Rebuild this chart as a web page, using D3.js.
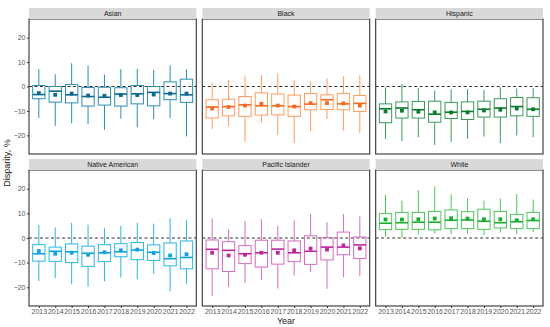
<!DOCTYPE html>
<html><head><meta charset="utf-8">
<script src="https://cdn.jsdelivr.net/npm/d3@7"></script>
<style>body{margin:0;background:#fff}svg{display:block}text{font-family:"Liberation Sans",Arial,sans-serif}</style>
</head><body><svg id="c" width="550" height="327"></svg>
<script>
const years = ["2013","2014","2015","2016","2017","2018","2019","2020","2021","2022"];
const groups = ["Asian","Black","Hispanic","Native American","Pacific Islander","White"];
const yTicks = [-20,-10,0,10,20];
// per group: [whiskerLow, q1, median, q3, whiskerHigh, mean] per year
const asian = [[-12.9,-5.0,-3.3,0.4,7.1,-2.7],[-16.1,-6.4,-1.9,0,5.0,-3.4],[-15,-6.7,-3.4,0.8,9.5,-2.9],[-15.4,-8.0,-4.1,-0.4,8.6,-3.7],[-17.7,-7.6,-4.4,-0.3,4.9,-3.8],[-13.2,-8.0,-3.1,-0.5,7.1,-3.5],[-16.7,-7.1,-3.0,0.4,7.2,-3.5],[-13.3,-7.9,-2.4,0,6.8,-3.3],[-12.9,-5.4,-2.9,1.9,8.7,-2.9],[-20.4,-6.5,-3.4,3.0,7.1,-2.9]];
const black = [[-17.4,-12.9,-8.4,-5.4,1.4,-9.0],[-16.3,-12.0,-8.2,-5.2,2.6,-8.4],[-22.7,-12.2,-7.5,-4.1,4.4,-7.8],[-14.7,-11.7,-7.9,-2.6,4.6,-7.1],[-19.7,-11.6,-7.9,-3.1,5.2,-7.8],[-23.1,-12.2,-8.2,-3.5,2.6,-8.2],[-18.2,-9.5,-7.2,-2.9,2.0,-6.8],[-13.3,-9.4,-5.4,-3.4,3.3,-6.8],[-18,-9.5,-7.1,-2.9,4.1,-6.9],[-19,-10.2,-6.9,-3.7,4.6,-7.8]];
const hispanic = [[-21.5,-14.8,-9.1,-7.1,-0.3,-10.2],[-22.3,-12.9,-8.8,-6.3,1.0,-9.9],[-20.7,-12.9,-9.5,-6.1,-0.7,-10.3],[-23.9,-14.6,-11.3,-6.0,-1.6,-10.6],[-22.7,-13.1,-10.5,-6.5,-1.1,-10.6],[-21.4,-13.5,-10.2,-6.3,-1.1,-10.6],[-20.5,-12.5,-9.3,-6.0,-1.4,-9.8],[-23.1,-12.5,-8.8,-5.0,-0.3,-9.5],[-20,-12.0,-8.2,-4.5,-0.8,-9.0],[-20.7,-12.2,-9.3,-4.6,-0.7,-9.3]];
const nativeAm = [[-17.5,-9.4,-6.4,-2.7,5.2,-5.3],[-16.3,-9.5,-5.4,-3.7,4.3,-6.4],[-18.8,-10.0,-5.6,-2.4,6.2,-6.0],[-19.7,-11.5,-6.2,-3.3,5.4,-6.8],[-17.6,-9.6,-6.0,-2.7,4.1,-5.8],[-16.1,-7.6,-5.6,-2.3,4.9,-5.0],[-16.7,-8.8,-4.9,-1.8,6.2,-4.7],[-14.5,-9.1,-5.8,-2.8,5.8,-6.1],[-21.6,-11.3,-8.4,-2.0,8.0,-7.1],[-18.6,-12.5,-7.9,-1.2,7.2,-6.6]];
const pacific = [[-23.6,-12.5,-4.6,-0.8,7.9,-6.0],[-19.8,-13.6,-5.0,-1.5,3.5,-7.1],[-18.2,-10.4,-6.4,-3.1,6.9,-6.8],[-17.1,-11.8,-6.0,-0.9,7.6,-6.0],[-20.5,-10.6,-4.5,-0.9,4.9,-6.0],[-15.2,-9.6,-6.0,-1.2,7.2,-5.0],[-13.8,-10.7,-5.4,0.9,9.8,-4.3],[-20.6,-8.9,-3.7,0.1,6.4,-4.7],[-15.9,-6.8,-3.7,2.4,9.8,-3.0],[-15.5,-8.3,-2.8,0.4,8.8,-4.2]];
const white = [[0.5,3.4,6.0,9.9,17.5,7.5],[0.1,3.5,6.2,10.4,15.1,7.5],[1.4,3.5,6.4,10.4,19.4,7.6],[1.8,3.3,6.4,10.8,21.0,7.9],[1.6,3.8,7.2,11.4,17.6,8.0],[1.8,3.8,7.3,10.7,16.1,7.9],[1.1,3.5,6.8,11.7,15.2,7.6],[2.2,4.1,6.2,10.8,16.0,7.6],[1.6,3.8,6.6,9.6,17.8,7.2],[2.4,3.8,7.1,10.4,15.6,7.6]];
const stats = [asian, black, hispanic, nativeAm, pacific, white];
const boxCol = ["#2b8db4","#ff9b5e","#3c9a5c","#2ab6e8","#d66bc3","#4dc75b"];
const darkCol = ["#0f6890","#f26a20","#0b7a2c","#12a2db","#bd269d","#18ad30"];

const svg = d3.select("#c");
const left = 29, gap = 6, right = 543;
const pw = (right-left-2*gap)/3;
const rows = [{strip:8, top:19, bot:154},{strip:159, top:170, bot:306}];

groups.forEach((g,i)=>{
  const col = i%3, row = Math.floor(i/3);
  const x0 = left + col*(pw+gap);
  const R = rows[row];
  const ph = R.bot - R.top;
  const gp = svg.append("g").attr("transform",`translate(${x0},${R.top})`);
  const x = d3.scalePoint().domain(years).range([0,pw]).padding(0.6);
  const y = d3.scaleLinear().domain([-27.6,27.6]).range([ph,0]);
  svg.append("rect").attr("x",x0).attr("y",R.strip).attr("width",pw).attr("height",R.top-R.strip).attr("fill","#d9d9d9");
  svg.append("text").attr("x",x0+pw/2).attr("y",(R.strip+R.top)/2+2.4).attr("text-anchor","middle")
    .attr("font-size",7).attr("fill","#1a1a1a").text(g);
  gp.append("line").attr("x1",0).attr("x2",pw).attr("y1",y(0)).attr("y2",y(0))
    .attr("stroke","#333").attr("stroke-width",1).attr("stroke-dasharray","3,2.5");
  const bw = x.step()*0.75;
  stats[i].forEach((s,j)=>{
    const cx = x(years[j]);
    const c = boxCol[i], dc = darkCol[i];
    gp.append("line").attr("x1",cx).attr("x2",cx).attr("y1",y(s[4])).attr("y2",y(s[3])).attr("stroke",c).attr("stroke-width",1);
    gp.append("line").attr("x1",cx).attr("x2",cx).attr("y1",y(s[1])).attr("y2",y(s[0])).attr("stroke",c).attr("stroke-width",1);
    gp.append("rect").attr("x",cx-bw/2).attr("y",y(s[3])).attr("width",bw).attr("height",y(s[1])-y(s[3]))
      .attr("fill","none").attr("stroke",c).attr("stroke-width",1);
    gp.append("line").attr("x1",cx-bw/2).attr("x2",cx+bw/2).attr("y1",y(s[2])).attr("y2",y(s[2])).attr("stroke",dc).attr("stroke-width",1.6);
    gp.append("rect").attr("x",cx-1.9).attr("y",y(s[5])-1.9).attr("width",3.8).attr("height",3.8).attr("fill",dc);
  });
  gp.append("rect").attr("x",0).attr("y",0).attr("width",pw).attr("height",ph).attr("fill","none").attr("stroke","#444").attr("stroke-width",1.2);
  if(col===0){
    const ax = gp.append("g").call(d3.axisLeft(y).tickValues(yTicks).tickSize(2).tickPadding(1.5));
    ax.select(".domain").remove();
    ax.selectAll("line").attr("stroke","#333");
    ax.selectAll("text").attr("font-size",7).attr("fill","#555").style("font-family","Liberation Sans, Arial, sans-serif");
  }
  if(row===1){
    const ax = gp.append("g").attr("transform",`translate(0,${ph})`).call(d3.axisBottom(x).tickSize(2).tickPadding(1.5));
    ax.select(".domain").remove();
    ax.selectAll("line").attr("stroke","#333");
    ax.selectAll("text").attr("font-size",7).attr("fill","#555").style("font-family","Liberation Sans, Arial, sans-serif");
  }
});
svg.append("text").attr("transform","translate(10,163) rotate(-90)").attr("text-anchor","middle")
  .attr("font-size",9).attr("fill","#1a1a1a").text("Disparity, %");
svg.append("text").attr("x",left+(right-left)/2).attr("y",324).attr("text-anchor","middle")
  .attr("font-size",9).attr("fill","#1a1a1a").text("Year");
</script></body></html>
